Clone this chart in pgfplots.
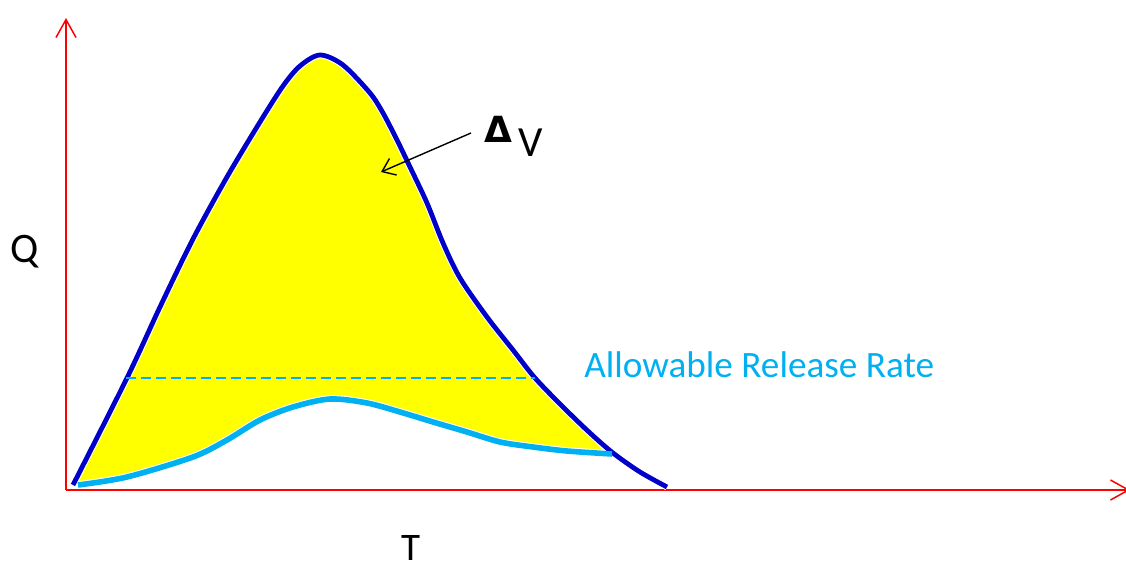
\documentclass[border=0pt]{standalone}
\usepackage{pgfplots}
\pgfplotsset{compat=1.18}
\usepackage{pgfplotstable}
\usepgfplotslibrary{fillbetween}
\usetikzlibrary{arrows.meta}
\usepackage{fontspec}
\setmainfont{Carlito}
\newfontfamily\symfont{DejaVu Sans}

\definecolor{inflow}{RGB}{0,0,200}
\definecolor{release}{RGB}{0,176,240}
\definecolor{storage}{RGB}{255,255,0}

% inflow hydrograph
\pgfplotstableread{
x y
73 5
127 112
160 183
193 251
227 313
260 368
283 404
300 424
320 435
343 425
370 397
383 377
397 350
410 323
427 287
443 247
460 212
487 173
513 140
535 112
563 83
590 57
613 37
640 18
667 3
}\inflowtab

% outflow hydrograph
\pgfplotstableread{
x y
78 5
127 13
193 33
227 50
260 70
293 83
330 91
367 87
400 78
433 68
467 58
500 48
533 43
567 39
612 36
}\outflowtab

\begin{document}
\begin{tikzpicture}
\begin{axis}[
    scale only axis,
    width=532pt, height=236pt,
    xmin=66, xmax=1130,
    ymin=0, ymax=472,
    axis lines=left,
    ticks=none,
    axis line style={red, line width=0.75pt, -{Straight Barb[length=9pt,width=10pt]}},
    clip=false,
]
\addplot[name path=inflow, draw=none] table {\inflowtab};
\addplot[name path=outflow, draw=none] table {\outflowtab};
\addplot[storage] fill between[of=inflow and outflow, soft clip={domain=78:605}];

\addplot[white, line width=3.4pt, smooth] table {\inflowtab};
\addplot[white, line width=3.8pt, smooth] table {\outflowtab};
\addplot[inflow, line width=2.4pt, smooth] table {\inflowtab};
\addplot[release, line width=2.8pt, smooth] table {\outflowtab};

% allowable release rate
\addplot[release, line width=1pt, dash pattern=on 5pt off 2.5pt] coordinates {(126,112) (535,112)};

\node[anchor=base west, text=release, font=\fontsize{18.6}{19}\selectfont, inner sep=0pt]
    at (axis cs:584,113) {Allowable Release Rate};

\draw[black, line width=0.7pt, -{Straight Barb[length=6pt,width=9pt]}] (axis cs:471,357) -- (axis cs:381,318);
\node[anchor=base west, inner sep=0pt, font=\symfont\bfseries\fontsize{18}{19}\selectfont] at (axis cs:484,348) {Δ};
\node[anchor=base west, inner sep=0pt, font=\fontsize{21.5}{22}\selectfont] at (axis cs:518,334) {V};

\node[font=\fontsize{21}{22}\selectfont, inner sep=0pt] at (axis cs:25,238) {Q};
\node[anchor=base, font=\fontsize{19.5}{20}\selectfont, inner sep=0pt] at (axis cs:411,-70) {T};

\coordinate (bbA) at (axis cs:0,-79);
\coordinate (bbB) at (axis cs:1126,490);
\end{axis}
\pgfresetboundingbox
\path[use as bounding box] (bbA) rectangle (bbB);
\end{tikzpicture}
\end{document}
